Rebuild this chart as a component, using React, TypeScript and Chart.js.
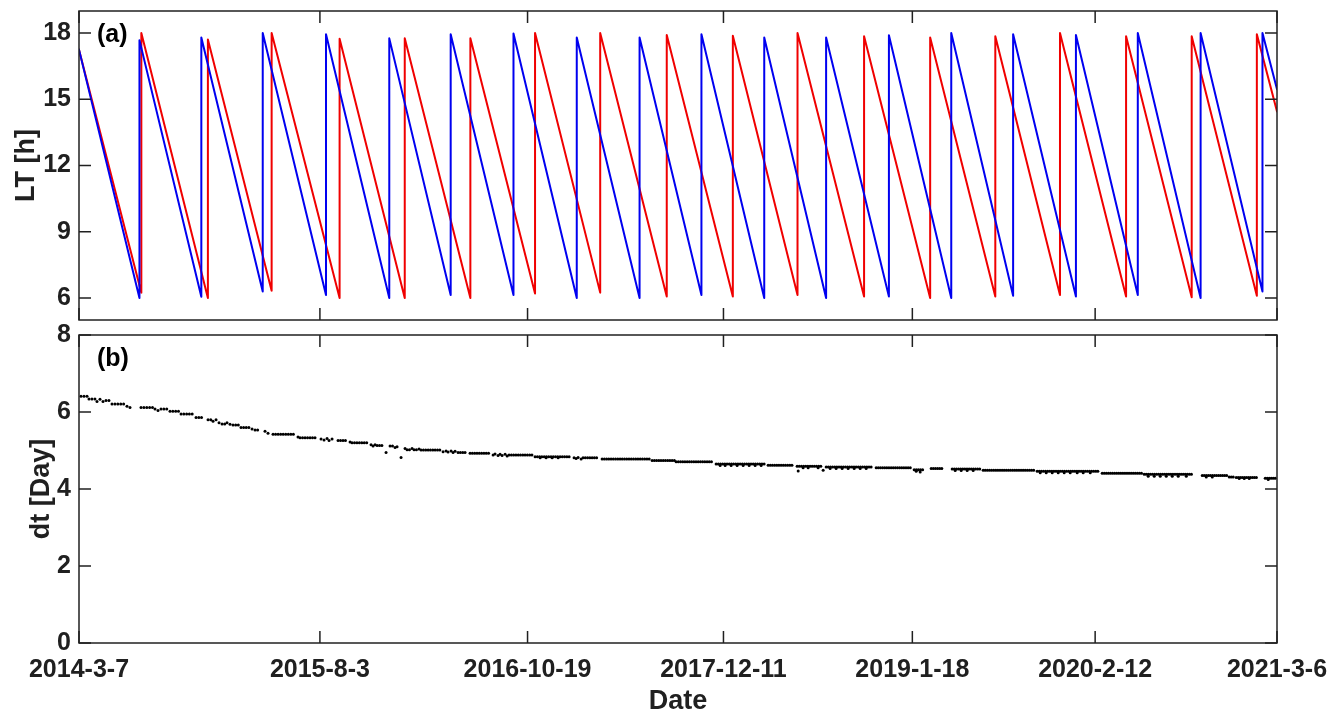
import React, { useEffect, useRef } from 'react';
import { Chart, registerables } from 'chart.js';

Chart.register(...registerables);

const FONT = '"Liberation Sans", Arial, Helvetica, sans-serif';
const INK = '#202020';

// ---- axes ----
const xTickLabels = ['2014-3-7', '2015-8-3', '2016-10-19', '2017-12-11', '2019-1-18', '2020-2-12', '2021-3-6'];
const ltTicks = [6, 9, 12, 15, 18];
const dtTicks = [0, 2, 4, 6, 8];

// ---- panel (a): local time of the two series (days since 2014-3-7) ----
const blueStartLT = 17.25;
const blueJumpDay = [129, 261, 392, 527, 662, 793, 927, 1062, 1196, 1328, 1462, 1594, 1728, 1861, 1993, 2127, 2259, 2393, 2525];
const blueTroughLT = [6.0, 6.05, 6.29, 6.13, 6.0, 6.13, 6.13, 6.0, 6.0, 6.13, 6.0, 6.0, 6.06, 6.0, 6.1, 6.06, 6.13, 6.0, 6.29];
const bluePeakLT = [17.68, 17.8, 18.0, 17.95, 17.76, 17.95, 17.98, 17.8, 17.8, 17.95, 17.8, 17.8, 17.9, 18.0, 17.95, 17.91, 18.0, 18.0, 18.0];
const blueEndLT = 15.45;

const redStartLT = 17.25;
const redJumpDay = [133, 275, 411, 556, 695, 835, 973, 1112, 1254, 1395, 1533, 1675, 1816, 1955, 2093, 2234, 2374, 2513];
const redTroughLT = [6.24, 6.0, 6.33, 6.0, 6.0, 6.0, 6.2, 6.24, 6.06, 6.06, 6.13, 6.06, 6.0, 6.06, 6.13, 6.06, 6.03, 6.1];
const redPeakLT = [18.0, 17.71, 18.0, 17.74, 17.76, 17.76, 18.0, 18.0, 17.91, 17.88, 18.0, 17.86, 17.8, 17.86, 18.0, 17.86, 17.86, 17.95];
const redEndLT = 14.45;

// ---- panel (b): dt plateaus (start day, dt value, number of samples spaced by dt) ----
const dtRunStartDay = [
  4.3, 21.3, 38.4, 44.8, 51.2, 57.6, 70.4, 102.4, 108.8, 132.3,
  162.2, 168.6, 175.0, 194.2, 217.7, 249.7, 275.3, 286.0, 292.4, 298.8,
  305.2, 315.8, 322.2, 328.6, 345.7, 369.2, 375.6, 396.9, 403.3, 414.0,
  467.3, 471.6, 516.4, 522.8, 529.2, 533.5, 539.9, 552.7, 578.3, 582.6,
  623.1, 627.4, 631.7, 636.0, 655.1, 663.7, 674.3, 678.6, 687.1, 695.7,
  700.0, 710.6, 714.9, 725.6, 729.8, 776.8, 783.2, 787.4, 793.8, 798.1,
  802.4, 808.8, 834.4, 883.5, 887.7, 894.1, 898.4, 902.7, 909.1, 913.4,
  917.6, 973.1, 1056.3, 1060.6, 1064.9, 1071.3, 1075.5, 1116.1, 1222.8, 1274.0,
  1359.4, 1470.3, 1532.2, 1594.1, 1700.8, 1781.9, 1818.2, 1863.0, 1929.1, 2044.4,
  2183.1, 2272.7, 2396.5, 2454.1, 2469.0, 2530.9,
];
const dtRunValue = [
  6.41, 6.34, 6.27, 6.33, 6.27, 6.30, 6.21, 6.15, 6.12, 6.12,
  6.08, 6.04, 6.08, 6.02, 5.95, 5.86, 5.80, 5.76, 5.80, 5.72,
  5.69, 5.72, 5.68, 5.66, 5.60, 5.56, 5.53, 5.50, 5.45, 5.42,
  5.35, 5.33, 5.30, 5.27, 5.31, 5.26, 5.30, 5.26, 5.22, 5.20,
  5.15, 5.12, 5.15, 5.13, 4.95, 5.12, 5.08, 5.10, 4.82, 5.05,
  5.02, 5.05, 5.02, 5.04, 5.01, 4.97, 4.99, 4.96, 4.99, 4.95,
  4.98, 4.95, 4.93, 4.88, 4.91, 4.87, 4.90, 4.87, 4.90, 4.86,
  4.88, 4.84, 4.81, 4.79, 4.82, 4.78, 4.81, 4.78, 4.74, 4.71,
  4.65, 4.62, 4.59, 4.57, 4.55, 4.50, 4.53, 4.52, 4.49, 4.46,
  4.41, 4.38, 4.35, 4.31, 4.30, 4.28,
];
const dtRunCount = [
  3, 3, 1, 1, 1, 2, 5, 1, 1, 5,
  1, 1, 3, 4, 5, 3, 2, 1, 1, 1,
  2, 1, 1, 3, 4, 1, 2, 1, 1, 9,
  1, 7, 1, 1, 1, 1, 1, 4, 1, 7,
  1, 1, 1, 3, 1, 2, 1, 1, 1, 1,
  2, 1, 2, 1, 9, 1, 1, 1, 1, 1,
  1, 4, 9, 1, 1, 1, 1, 1, 1, 1,
  11, 16, 1, 1, 1, 1, 7, 22, 11, 17,
  23, 12, 12, 22, 17, 5, 6, 14, 25, 30,
  20, 24, 13, 3, 11, 6,
];
// single off-plateau samples
const dtExtraDay = [
  983.8, 996.6, 1009.4, 1022.2,
  1367.9, 1378.6, 1391.4, 1404.2, 1417.0, 1429.8, 1442.6, 1455.4,
  1534.4, 1545.0, 1555.7, 1577.0, 1587.7,
  1602.6, 1615.4, 1628.2, 1641.0, 1653.9, 1666.7, 1679.5,
  1786.2, 1794.7,
  1869.4, 1882.2, 1895.0, 1907.8,
  2050.8, 2063.6, 2076.4, 2089.2, 2102.0, 2114.8, 2129.7, 2142.5, 2157.5,
  2281.2, 2294.1, 2306.9, 2319.7, 2332.5, 2345.3, 2362.4,
  2405.1, 2417.9,
  2475.4, 2486.1, 2496.8,
  2537.3,
];
const dtExtraValue = [
  4.81, 4.81, 4.81, 4.81,
  4.61, 4.61, 4.61, 4.61, 4.61, 4.61, 4.61, 4.61,
  4.47, 4.55, 4.55, 4.55, 4.49,
  4.53, 4.53, 4.53, 4.53, 4.53, 4.53, 4.53,
  4.46, 4.44,
  4.48, 4.48, 4.48, 4.48,
  4.42, 4.42, 4.42, 4.42, 4.42, 4.42, 4.42, 4.42, 4.42,
  4.33, 4.33, 4.33, 4.33, 4.33, 4.33, 4.33,
  4.31, 4.31,
  4.27, 4.27, 4.27,
  4.25,
];

// ---- helpers ----
function dayOf(s: string): number {
  const [y, m, d] = s.split('-').map(Number);
  return Math.round((Date.UTC(y, m - 1, d) - Date.UTC(2014, 2, 7)) / 86400000);
}
const xTickDays = xTickLabels.map(dayOf);
const xMax = xTickDays[xTickDays.length - 1];

function sawtooth(startLT: number, jumps: number[], troughs: number[], peaks: number[], endLT: number) {
  const pts: { x: number; y: number }[] = [{ x: 0, y: startLT }];
  jumps.forEach((d, i) => {
    pts.push({ x: d, y: troughs[i] });
    pts.push({ x: d, y: peaks[i] });
  });
  pts.push({ x: xMax, y: endLT });
  return pts;
}

function dtPoints() {
  const pts: { x: number; y: number }[] = [];
  dtRunStartDay.forEach((d0, i) => {
    for (let k = 0; k < dtRunCount[i]; k++) pts.push({ x: d0 + k * dtRunValue[i], y: dtRunValue[i] });
  });
  return pts;
}

function framePlugin(xTicks: number[], yTicks: number[], label: string) {
  return {
    id: 'frame' + label,
    afterDraw(chart: any) {
      const { ctx, chartArea, scales } = chart;
      const { left, right, top, bottom } = chartArea;
      const tl = 12;
      ctx.save();
      ctx.strokeStyle = INK;
      ctx.lineWidth = 1.5;
      ctx.strokeRect(left, top, right - left, bottom - top);
      ctx.beginPath();
      xTicks.forEach((v) => {
        const px = scales.x.getPixelForValue(v);
        ctx.moveTo(px, bottom);
        ctx.lineTo(px, bottom - tl);
        ctx.moveTo(px, top);
        ctx.lineTo(px, top + tl);
      });
      yTicks.forEach((v) => {
        const py = scales.y.getPixelForValue(v);
        ctx.moveTo(left, py);
        ctx.lineTo(left + tl, py);
        ctx.moveTo(right, py);
        ctx.lineTo(right - tl, py);
      });
      ctx.stroke();
      ctx.fillStyle = '#000';
      ctx.font = 'bold 25px ' + FONT;
      ctx.textBaseline = 'middle';
      ctx.textAlign = 'left';
      ctx.fillText(label, left + 18, top + 24);
      ctx.restore();
    },
  };
}

const fixAxis = (size: number, vertical: boolean) => (s: any) => {
  if (vertical) s.width = size;
  else s.height = size;
  s.paddingLeft = 0;
  s.paddingRight = 0;
  s.paddingTop = 0;
  s.paddingBottom = 0;
};

const tickFont = { family: FONT, size: 25, weight: 'bold' as const };
const titleFont = { family: FONT, size: 27, weight: 'bold' as const, lineHeight: 1 };

export default function App() {
  const topRef = useRef<HTMLCanvasElement>(null);
  const botRef = useRef<HTMLCanvasElement>(null);

  useEffect(() => {
    const lineStyle = {
      showLine: true,
      borderWidth: 2,
      pointRadius: 0,
      tension: 0,
      borderJoinStyle: 'round' as const,
      borderCapStyle: 'round' as const,
    };
    const top = new Chart(topRef.current as HTMLCanvasElement, {
      type: 'scatter',
      data: {
        datasets: [
          {
            ...lineStyle,
            data: sawtooth(blueStartLT, blueJumpDay, blueTroughLT, bluePeakLT, blueEndLT),
            borderColor: '#0000f0',
          },
          {
            ...lineStyle,
            data: sawtooth(redStartLT, redJumpDay, redTroughLT, redPeakLT, redEndLT),
            borderColor: '#f00000',
          },
        ],
      },
      options: {
        responsive: false,
        animation: false,
        events: [],
        layout: { padding: { left: 0, right: 63, top: 11, bottom: 0 } },
        plugins: { legend: { display: false }, tooltip: { enabled: false } },
        scales: {
          x: {
            type: 'linear',
            min: 0,
            max: xMax,
            afterBuildTicks: (s: any) => {
              s.ticks = xTickDays.map((v) => ({ value: v }));
            },
            ticks: { display: false },
            grid: { display: false, drawTicks: false },
            border: { display: false },
            afterFit: fixAxis(10, false),
          },
          y: {
            min: 5,
            max: 19,
            afterBuildTicks: (s: any) => {
              s.ticks = ltTicks.map((v) => ({ value: v }));
            },
            ticks: { font: tickFont, color: INK, padding: 8 },
            grid: { display: false, drawTicks: false },
            border: { display: false },
            title: { display: true, text: 'LT [h]', font: titleFont, color: INK, padding: { top: 13, bottom: 0 } },
            afterFit: fixAxis(79, true),
          },
        },
      } as any,
      plugins: [framePlugin(xTickDays, ltTicks, '(a)')],
    });

    const bot = new Chart(botRef.current as HTMLCanvasElement, {
      type: 'scatter',
      data: {
        datasets: [
          {
            data: dtPoints(),
            backgroundColor: '#000',
            borderWidth: 0,
            pointRadius: 1.5,
          },
          {
            data: dtExtraDay.map((d, i) => ({ x: d, y: dtExtraValue[i] })),
            backgroundColor: '#000',
            borderWidth: 0,
            pointRadius: 1.5,
          },
        ],
      },
      options: {
        responsive: false,
        animation: false,
        events: [],
        layout: { padding: { left: 0, right: 63, top: 15, bottom: 0 } },
        plugins: { legend: { display: false }, tooltip: { enabled: false } },
        scales: {
          x: {
            type: 'linear',
            min: 0,
            max: xMax,
            afterBuildTicks: (s: any) => {
              s.ticks = xTickDays.map((v) => ({ value: v }));
            },
            ticks: {
              font: tickFont,
              color: INK,
              padding: 12,
              autoSkip: false,
              maxRotation: 0,
              callback: (_v: any, i: number) => xTickLabels[i],
            },
            grid: { display: false, drawTicks: false },
            border: { display: false },
            title: { display: true, text: 'Date', font: titleFont, color: INK, padding: { top: 0, bottom: 2 } },
            afterFit: fixAxis(74, false),
          },
          y: {
            min: 0,
            max: 8,
            afterBuildTicks: (s: any) => {
              s.ticks = dtTicks.map((v) => ({ value: v }));
            },
            ticks: { font: tickFont, color: INK, padding: 8 },
            grid: { display: false, drawTicks: false },
            border: { display: false },
            title: { display: true, text: 'dt [Day]', font: titleFont, color: INK, padding: { top: 28, bottom: 0 } },
            afterFit: fixAxis(79, true),
          },
        },
      } as any,
      plugins: [framePlugin(xTickDays, dtTicks, '(b)')],
    });

    return () => {
      top.destroy();
      bot.destroy();
    };
  }, []);

  return (
    <div>
      <canvas
        ref={topRef}
        width={1340}
        height={330}
        style={{ position: 'absolute', left: 0, top: 0, width: 1340, height: 330 }}
      />
      <canvas
        ref={botRef}
        width={1340}
        height={397}
        style={{ position: 'absolute', left: 0, top: 320, width: 1340, height: 397 }}
      />
    </div>
  );
}
